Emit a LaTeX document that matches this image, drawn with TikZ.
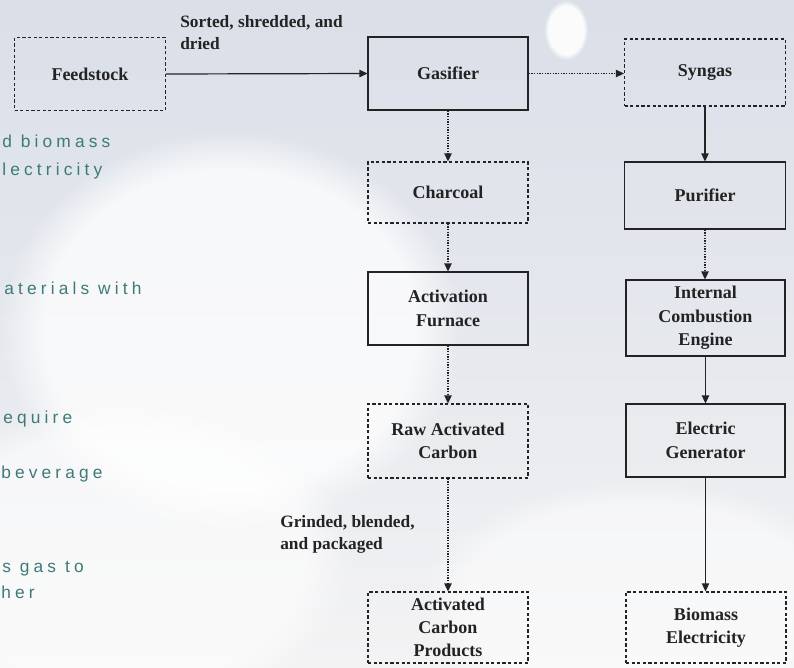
\documentclass[tikz,border=0pt]{standalone}
\usepackage{fontspec}
\setmainfont{Liberation Serif}
\newfontfamily\bgsans[LetterSpace=24]{Liberation Sans}
\usetikzlibrary{arrows.meta,fadings}
\definecolor{bgtop}{RGB}{218,223,232}
\definecolor{bgbot}{RGB}{243,243,244}
\definecolor{tealtxt}{RGB}{62,122,120}
\definecolor{ink}{RGB}{35,35,35}
\tikzset{
  box/.style={draw=ink, line width=0.8pt, align=center, inner sep=2pt,
    font=\bfseries\fontsize{13.5}{17.5}\selectfont, text=ink,
    minimum width=120pt, minimum height=54.75pt},
  dbox/.style={box, dash pattern=on 2.4pt off 1.8pt},
  conn/.style={draw=ink, line width=0.9pt, -{Triangle[length=6pt,width=5.5pt]}},
  dconn/.style={conn, dash pattern=on 1pt off 1pt},
  lbl/.style={align=left, inner sep=0pt, text=ink,
    font=\bfseries\fontsize{13}{16.5}\selectfont},
  bgtext/.style={anchor=base west, inner sep=0pt, text=tealtxt,
    font=\bgsans\fontsize{13}{15}\selectfont},
  blob/.style={fill=white, path fading=circle with fuzzy edge 20 percent}
}
\begin{document}
\begin{tikzpicture}[x=0.75pt,y=-0.75pt]
\useasboundingbox (0,0) rectangle (794,668);
\clip (0,0) rectangle (794,668);
% background
\shade[top color=bgtop, bottom color=bgbot, middle color=bgtop!55!bgbot] (0,0) rectangle (794,668);
\fill[blob, opacity=0.75] (230,330) ellipse [x radius=230, y radius=200];
\fill[blob, opacity=0.6] (120,560) ellipse [x radius=230, y radius=160];
\fill[blob, opacity=0.5] (640,600) ellipse [x radius=220, y radius=120];
\fill[blob, opacity=0.9] (566,30) ellipse [x radius=22, y radius=30];
% faded background text
\node[bgtext] (t1) at (2,147) {d biomass};
\node[bgtext] (t2) at (2,175) {lectricity};
\node[bgtext] (t3) at (4,294) {aterials with};
\node[bgtext] (t4) at (3,423) {equire};
\node[bgtext] (t5) at (1,478) {beverage};
\node[bgtext] (t6) at (2,572) {s gas to};
\node[bgtext] (t7) at (1,598) {her};
% nodes
\node[dbox, minimum width=113.25pt] (feed) at (90,74) {Feedstock};
\node[box] (gas) at (448,73.5) {Gasifier};
\node[dbox, minimum width=120.75pt, minimum height=50.25pt] (syn) at (705,72.5) {Syngas};
\node[dbox, minimum height=45.75pt] (char) at (448,192.5) {Charcoal};
\node[box, minimum width=120.75pt, minimum height=50.25pt] (pur) at (705,195.5) {Purifier};
\node[box] (act) at (448,308.5) {Activation\\Furnace};
\node[box, minimum width=119.25pt, minimum height=57pt] (ice) at (705.5,318) {Internal\\Combustion\\Engine};
\node[dbox, minimum height=55.5pt] (raw) at (448,441) {Raw Activated\\Carbon};
\node[box, minimum width=119.25pt] (gen) at (705.5,440.5) {Electric\\Generator};
\node[dbox, minimum height=53.25pt] (prod) at (448,627.5) {Activated\\Carbon\\Products};
\node[dbox, minimum height=53.25pt] (bio) at (706,627.5) {Biomass\\Electricity};
% labels
\node[lbl, anchor=north west] (l1) at (180,15) {Sorted, shredded, and\\dried};
\node[lbl, anchor=north west] (l2) at (280,515) {Grinded, blended,\\and packaged};
% connectors
\draw[conn] (feed.east) -- (gas.west);
\draw[dconn] (gas.east) -- (gas.east -| syn.west);
\draw[dconn] (gas.south) -- (char.north);
\draw[dconn] (char.south) -- (act.north);
\draw[dconn] (act.south) -- (raw.north);
\draw[dconn] (raw.south) -- (prod.north);
\draw[conn] (syn.south) -- (syn.south |- pur.north);
\draw[dconn] (pur.south) -- (pur.south |- ice.north);
\draw[conn] (ice.south) -- (ice.south |- gen.north);
\draw[conn] (gen.south) -- (gen.south |- bio.north);
\end{tikzpicture}
\end{document}
